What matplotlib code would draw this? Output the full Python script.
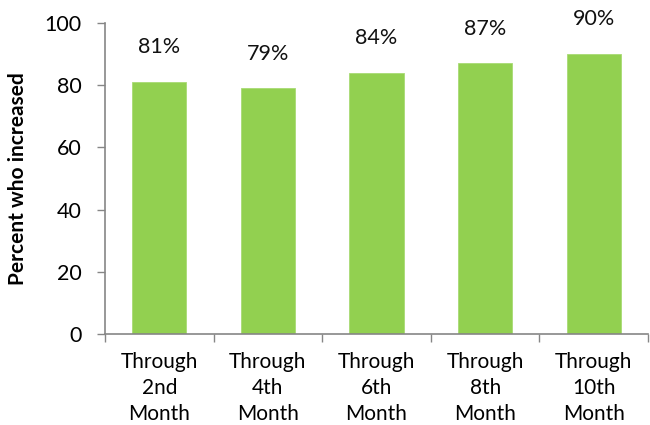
import matplotlib
matplotlib.use("Agg")
import matplotlib.pyplot as plt
import numpy as np

categories = ["Through\n2nd\nMonth", "Through\n4th\nMonth", "Through\n6th\nMonth",
              "Through\n8th\nMonth", "Through\n10th\nMonth"]
values = [81, 79, 84, 87, 90]
labels = ["81%", "79%", "84%", "87%", "90%"]

plt.rcParams['font.family'] = ['Lato', 'DejaVu Sans']

fig = plt.figure(figsize=(6.5, 4.25), dpi=100)
ax = fig.add_axes([0.1615, 0.214, 0.8355, 0.732])

x = np.arange(len(values))
bars = ax.bar(x, values, width=0.5, color="#92D050", edgecolor="#A8DB74", linewidth=0.6)

for b, lab in zip(bars, labels):
    ax.annotate(lab, (b.get_x() + b.get_width() / 2, b.get_height()),
                xytext=(0, 25), textcoords="offset points",
                ha="center", va="center", fontsize=15.5, color="#111111",
                annotation_clip=False)

ax.set_xlim(-0.5, len(values) - 0.5)
ax.set_ylim(0, 100)
ax.set_yticks(range(0, 101, 20))
ax.set_xticks(x)
ax.set_xticklabels(categories, fontsize=15, linespacing=1.38)
ax.set_xticks(np.arange(-0.5, len(values)), minor=True)
ax.tick_params(axis="x", which="major", length=0, pad=13)
ax.tick_params(axis="x", which="minor", length=6, color="#868686", width=1)
ax.tick_params(axis="y", length=6, color="#868686", width=1, labelsize=15.5, pad=11)

for s in ["top", "right"]:
    ax.spines[s].set_visible(False)
for s in ["left", "bottom"]:
    ax.spines[s].set_color("#868686")
    ax.spines[s].set_linewidth(1.2)

ax.set_ylabel("Percent who increased", fontsize=15, fontweight="bold", labelpad=12)

fig.savefig("out.png", dpi=100)
